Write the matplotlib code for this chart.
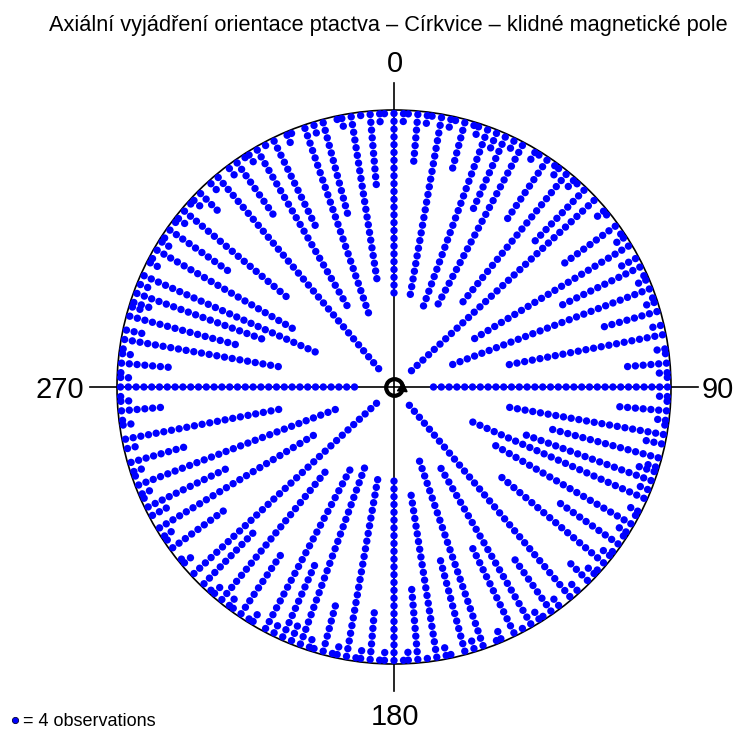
import numpy as np
import matplotlib
matplotlib.use("Agg")
import matplotlib.pyplot as plt
from matplotlib.lines import Line2D

plt.rcParams["font.family"] = ["Liberation Sans", "DejaVu Sans"]

# axial data: every direction below 180 also appears at direction + 180
# main spokes (direction in degrees, number of dots; one dot = 4 observations)
spoke_dir = [0, 5, 10, 15, 20, 24, 28, 34, 39, 44, 47, 54, 59, 64, 69, 74, 79, 85,
             90, 95, 100, 105, 110, 114, 120, 125, 130, 135, 140, 145, 150, 154,
             161, 165, 171, 175]
spoke_dots = [24, 7, 24, 7, 25, 11, 24, 10, 22, 10, 33, 9, 24, 12, 28, 8, 21, 6,
              31, 7, 21, 15, 18, 25, 21, 10, 18, 4, 33, 9, 24, 13,
              26, 13, 22, 10]

# short stacks sitting on the rim between the main spokes
rim_dir = [2, 3, 7, 8, 12, 13, 17, 18, 22, 26, 31, 32, 36, 37, 41, 42, 50, 51, 56,
           57, 62, 66, 67, 71, 72, 77, 82, 83, 87, 88, 92, 93, 97, 98, 102, 107,
           108, 112, 117, 118, 122, 123, 127, 128, 132, 133, 138, 143, 147, 148,
           152, 157, 158, 163, 168, 169, 173, 177, 178]
rim_dots = [2, 1, 2, 1, 2, 1, 1, 2, 3, 2, 2, 1, 1, 2, 2, 1, 2, 1, 1,
            2, 3, 1, 2, 1, 2, 2, 2, 1, 2, 1, 2, 1, 2, 1, 3, 2,
            3, 2, 2, 1, 2, 1, 1, 2, 1, 2, 2, 2, 1, 2,
            1, 2, 1, 2, 1, 2, 1, 2, 1]

title = "Axiální vyjádření orientace ptactva – Církvice – klidné magnetické pole"
dots_per_obs = 4

W, H = 739, 740
R = 277.0        # circle radius
first_r = 273.5  # centre of the outermost dot
step = 7.8       # spacing between stacked dots

theta, radius = [], []
for dirs, counts in ((spoke_dir, spoke_dots), (rim_dir, rim_dots)):
    for d, n in zip(dirs, counts):
        for half in (0, 180):
            for k in range(n):
                theta.append(np.deg2rad(d + half))
                radius.append(first_r - k * step)


def px(x, y):
    return x / W, 1 - y / H


fig = plt.figure(figsize=(W / 100, H / 100), dpi=100)
ax = fig.add_axes([117 / W, 76 / H, 554 / W, 554 / H], projection="polar")
ax.set_theta_zero_location("N")
ax.set_theta_direction(-1)
ax.set_ylim(0, R)
ax.grid(False)
ax.set_xticks([])
ax.set_yticks([])
ax.spines["polar"].set_linewidth(1.2)

# cross through the centre with short ticks outside the circle
for a in (0, 90, 180, 270):
    ax.plot([np.deg2rad(a)] * 2, [0, 304], color="black", lw=1.2,
            clip_on=False, zorder=1)

ax.scatter(theta, radius, s=28, color="#0000ff", edgecolors="none", zorder=3,
           clip_on=False)

# mean vector marker at the centre
ax.plot([0], [0], marker="o", ms=12, mfc="none", mec="black", mew=3, zorder=5)
ax.plot([np.deg2rad(95)], [8], marker=(3, 0, -5), ms=8, color="black", zorder=5)

lab = dict(fontsize=21)
fig.text(*px(395, 72.5), "0", ha="center", va="baseline", **lab)
fig.text(*px(395, 725), "180", ha="center", va="baseline", **lab)
fig.text(*px(702, 397.5), "90", ha="left", va="baseline", **lab)
fig.text(*px(84, 397.5), "270", ha="right", va="baseline", **lab)

fig.text(*px(388, 31), title, ha="center", va="baseline", fontsize=15.7)

fig.add_artist(Line2D([15 / W], [1 - 720 / H], marker="o", ms=4.5,
                      mfc="#0000ff", mec="#000033", mew=0.6,
                      transform=fig.transFigure))
fig.text(*px(23, 726.5), f"= {dots_per_obs} observations",
         ha="left", va="baseline", fontsize=13)

fig.savefig("out.png", dpi=100)
